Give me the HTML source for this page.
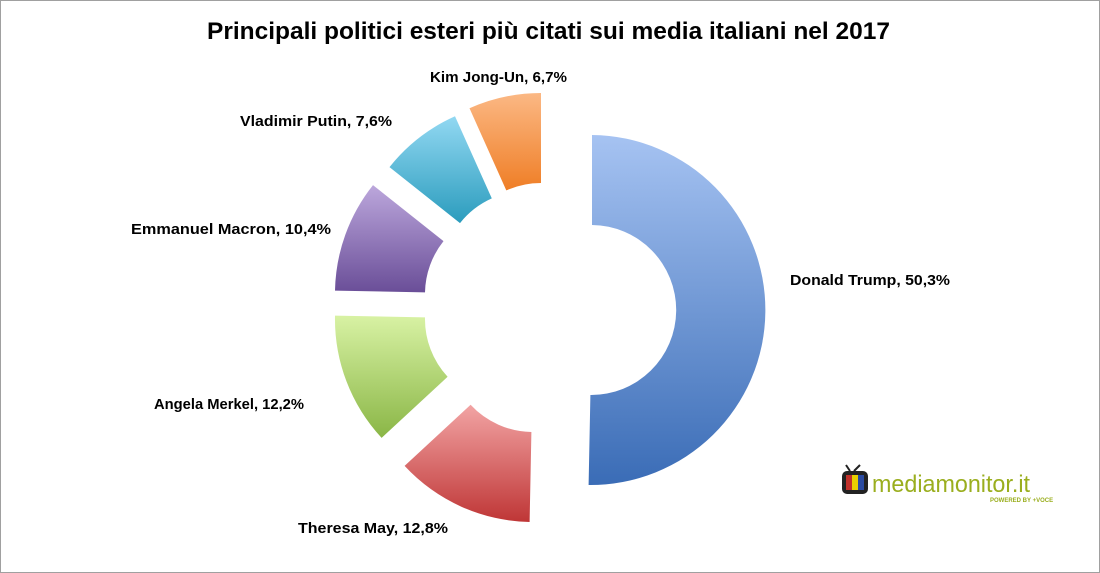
<!DOCTYPE html>
<html><head><meta charset="utf-8"><style>
body{margin:0;background:#fff;}
svg{display:block;font-family:"Liberation Sans",sans-serif;}
</style></head><body>
<svg id="s" width="1100" height="573" viewBox="0 0 1100 573">
<defs>
<linearGradient id="gT" x1="0" y1="0" x2="0" y2="1"><stop offset="0" stop-color="#a6c3f2"/><stop offset="1" stop-color="#3a6cb6"/></linearGradient>
<linearGradient id="gK" x1="0" y1="0" x2="0" y2="1"><stop offset="0" stop-color="#fbb884"/><stop offset="1" stop-color="#ef7e26"/></linearGradient>
<linearGradient id="gP" x1="0" y1="0" x2="0" y2="1"><stop offset="0" stop-color="#92d8f2"/><stop offset="1" stop-color="#2b9cbd"/></linearGradient>
<linearGradient id="gM" x1="0" y1="0" x2="0" y2="1"><stop offset="0" stop-color="#bca7dc"/><stop offset="1" stop-color="#6a4e98"/></linearGradient>
<linearGradient id="gG" x1="0" y1="0" x2="0" y2="1"><stop offset="0" stop-color="#d8f2a4"/><stop offset="1" stop-color="#8ab646"/></linearGradient>
<linearGradient id="gR" x1="0" y1="0" x2="0" y2="1"><stop offset="0" stop-color="#f2a4a4"/><stop offset="1" stop-color="#bf3636"/></linearGradient>
</defs>
<rect x="0.5" y="0.5" width="1099" height="572" fill="#fff" stroke="#a0a0a0"/>
<text x="207" y="39" font-size="24" font-weight="bold" fill="#000" textLength="683" lengthAdjust="spacingAndGlyphs">Principali politici esteri più citati sui media italiani nel 2017</text>
<g id="slices"></g>
<g font-size="15" font-weight="bold" fill="#000">
<text x="790" y="285" textLength="160" lengthAdjust="spacingAndGlyphs">Donald Trump, 50,3%</text>
<text x="430" y="82" textLength="137" lengthAdjust="spacingAndGlyphs">Kim Jong-Un, 6,7%</text>
<text x="240" y="126" textLength="152" lengthAdjust="spacingAndGlyphs">Vladimir Putin, 7,6%</text>
<text x="131" y="234" textLength="200" lengthAdjust="spacingAndGlyphs">Emmanuel Macron, 10,4%</text>
<text x="154" y="409" textLength="150" lengthAdjust="spacingAndGlyphs">Angela Merkel, 12,2%</text>
<text x="298" y="533" textLength="150" lengthAdjust="spacingAndGlyphs">Theresa May, 12,8%</text>
</g>
<g transform="translate(840,465)">
<rect x="2" y="6" width="26" height="23" rx="5" fill="#222"/>
<rect x="6" y="10" width="6" height="15" fill="#c0302a"/><rect x="12" y="10" width="6" height="15" fill="#e8d000"/><rect x="18" y="10" width="6" height="15" fill="#2a4aa0"/>
<line x1="10" y1="6" x2="6" y2="0" stroke="#222" stroke-width="2"/><line x1="14" y1="6" x2="20" y2="0" stroke="#222" stroke-width="2"/>
<text x="32" y="27" font-size="24" fill="#9aae1e" textLength="158" lengthAdjust="spacingAndGlyphs">mediamonitor.it</text>
<text x="150" y="37" font-size="6" font-weight="bold" fill="#9aae1e">POWERED BY +VOCE</text>
</g>
</svg>
<script>
var S=[[592,310,0,181.1,'gT'],[541,268,335.9,360,'gK'],[526.5,276,308.5,335.9,'gP'],[510,294,271.1,308.5,'gM'],[510,319,227.2,271.1,'gG'],[533,347,181.1,227.2,'gR']];
var R=175,r=85,g=document.getElementById('slices'),h='';
function p(cx,cy,rad,a){a=a*Math.PI/180;return (cx+rad*Math.sin(a)).toFixed(1)+','+(cy-rad*Math.cos(a)).toFixed(1);}
S.forEach(function(s){var l=(s[3]-s[2])>180?1:0;
h+='<path fill="url(#'+s[4]+')" d="M'+p(s[0],s[1],R,s[2])+' A'+R+','+R+' 0 '+l+' 1 '+p(s[0],s[1],R,s[3])+' L'+p(s[0],s[1],r,s[3])+' A'+r+','+r+' 0 '+l+' 0 '+p(s[0],s[1],r,s[2])+' Z"/>';});
g.innerHTML=h;
</script>
</body></html>
